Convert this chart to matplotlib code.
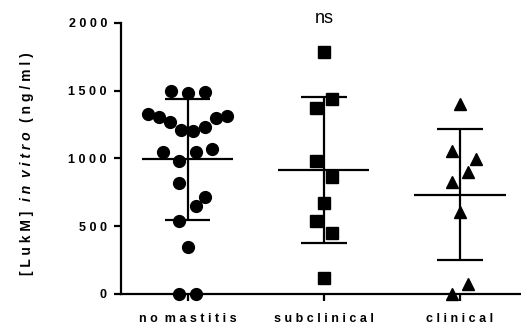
import numpy as np
import matplotlib
matplotlib.use("Agg")
import matplotlib.pyplot as plt

# LukM concentration per group (ng/ml)
groups = ["no mastitis", "subclinical", "clinical"]
no_mastitis = [1500, 1485, 1490, 1328, 1309, 1267, 1210, 1205, 1235, 1297, 1316,
               1050, 984, 1050, 1070, 822, 718, 650, 539, 345, 0, 0]
no_mastitis_dx = [-0.12, 0.0, 0.125, -0.29, -0.21, -0.127, -0.046, 0.04, 0.125, 0.206, 0.29,
                  -0.18, -0.064, 0.064, 0.18, -0.064, 0.125, 0.06, -0.064, 0.0, -0.06, 0.06]
subclinical = [1788, 1437, 1375, 982, 866, 674, 541, 448, 116]
subclinical_dx = [0.0, 0.057, -0.057, -0.057, 0.057, 0.0, -0.057, 0.057, 0.0]
clinical = [1402, 1058, 996, 903, 824, 603, 74, 0]
clinical_dx = [0.0, -0.06, 0.12, 0.06, -0.06, 0.0, 0.06, -0.06]
yticks = [0, 500, 1000, 1500, 2000]

data = [no_mastitis, subclinical, clinical]
offsets = [no_mastitis_dx, subclinical_dx, clinical_dx]
markers = ["o", "s", "^"]
sizes = [8.5, 8, 8.5]

FONT = ["Liberation Sans", "DejaVu Sans"]


def spaced(s):
    # wide letter spacing like the original
    return "  ".join(" ".join(w) for w in s.split(" "))


fig = plt.figure(figsize=(5.21, 3.27), dpi=100)
ax = fig.add_axes([0.232, 0.101, 0.766, 0.829])

for i, vals in enumerate(data):
    vals = np.array(vals, dtype=float)
    x = i + np.array(offsets[i])
    ax.plot(x, vals, linestyle="none", marker=markers[i], markersize=sizes[i],
            color="black", clip_on=False, zorder=3)
    m = vals.mean()
    sd = vals.std(ddof=1)
    ax.hlines(m, i - 0.335, i + 0.335, color="black", lw=1.6, zorder=2)
    ax.hlines([m - sd, m + sd], i - 0.168, i + 0.168, color="black", lw=1.6, zorder=2)
    ax.vlines(i, m - sd, m + sd, color="black", lw=1.6, zorder=2)

ax.set_xlim(-0.49, 2.44)
ax.set_ylim(0, 2000)

for side in ["top", "right"]:
    ax.spines[side].set_visible(False)
for side in ["left", "bottom"]:
    ax.spines[side].set_linewidth(1.6)

ax.set_yticks(yticks)
ax.set_yticklabels([spaced(str(t)) for t in yticks], family=FONT, fontsize=9, fontweight="bold")
ax.set_xticks(range(len(groups)))
ax.set_xticklabels([spaced(g) for g in groups], family=FONT, fontsize=9, fontweight="bold")
ax.tick_params(axis="both", width=1.6, length=5, pad=5)
ax.tick_params(axis="x", pad=9)

ax.text(1, 2030, "ns", ha="center", va="center", family=FONT, fontsize=13)

# y label, in three pieces so "in vitro" can be italic
x0 = 0.060
t1 = fig.text(x0, 0.158, spaced("[LukM]"), rotation=90, rotation_mode="anchor",
              ha="left", va="baseline", family=FONT, fontsize=10, fontweight="bold")
t2 = ax.annotate(spaced("in vitro"), xy=(x0, 1), xycoords=("figure fraction", t1),
                 xytext=(0, 7), textcoords="offset points", rotation=90,
                 rotation_mode="anchor", ha="left", va="baseline",
                 family=FONT, fontsize=10, fontweight="bold", style="italic")
t3 = ax.annotate(spaced("(ng/ml)"), xy=(x0, 1), xycoords=("figure fraction", t2),
                 xytext=(0, 7), textcoords="offset points", rotation=90,
                 rotation_mode="anchor", ha="left", va="baseline",
                 family=FONT, fontsize=10, fontweight="bold")

plt.savefig("out.png", dpi=100)
